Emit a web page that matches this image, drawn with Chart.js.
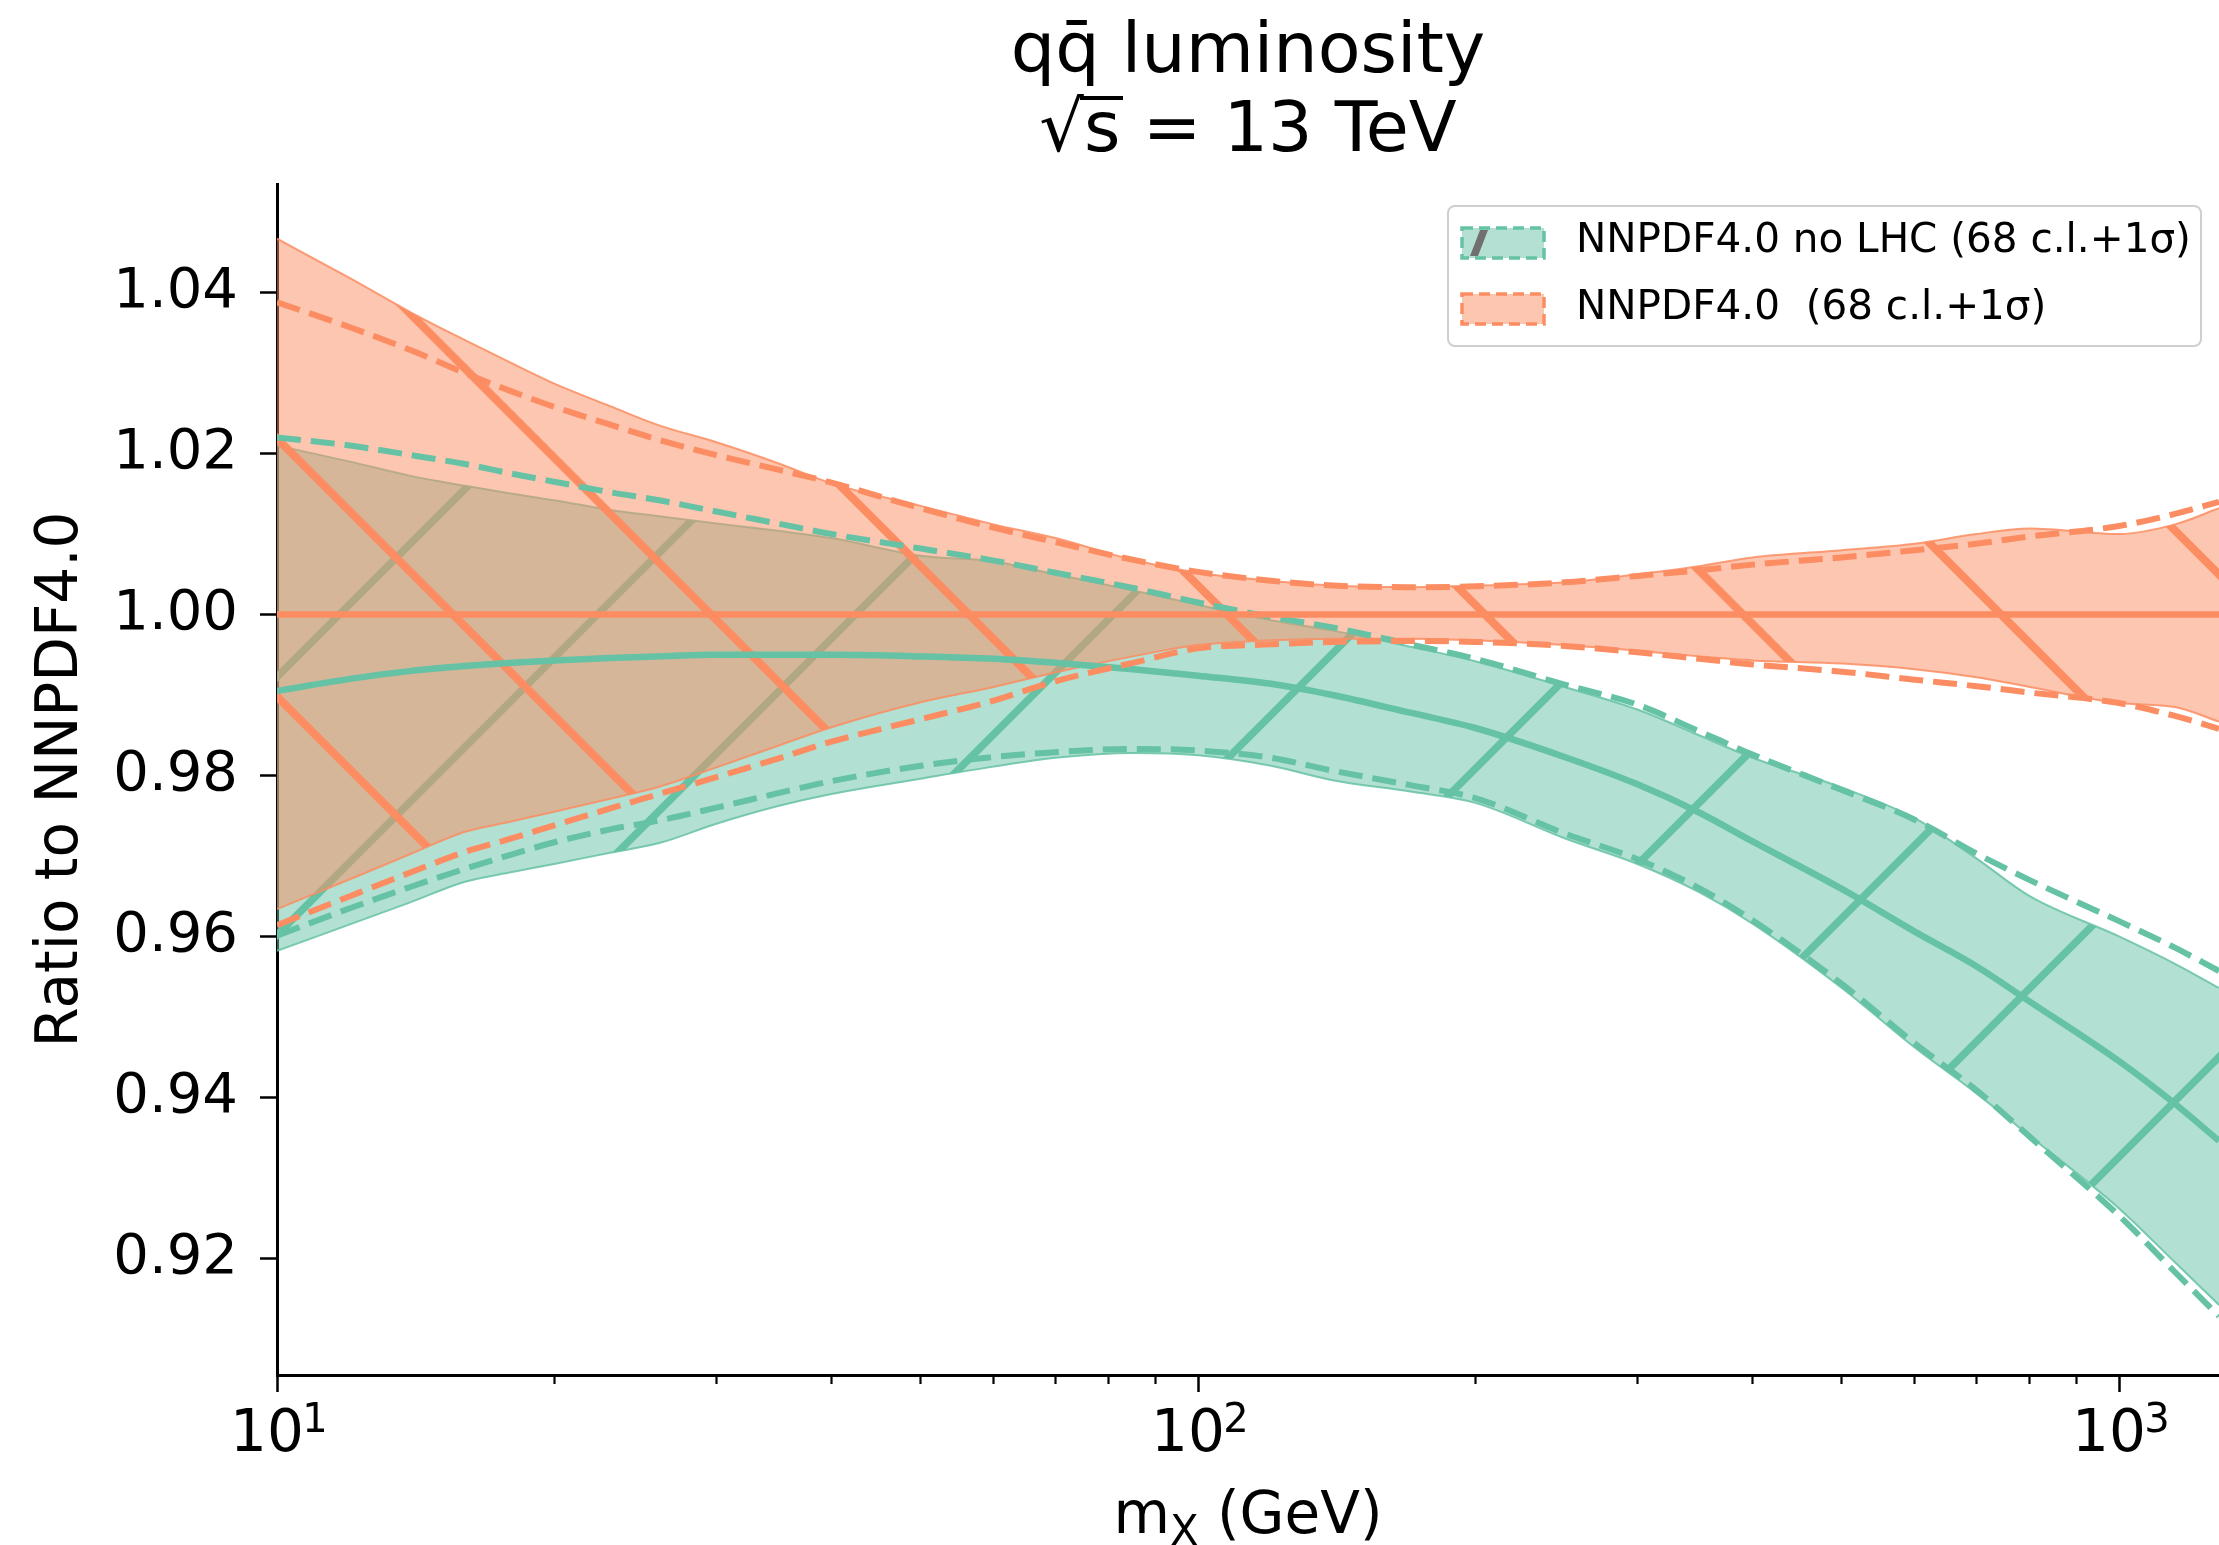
<!DOCTYPE html>
<html>
<head>
<meta charset="utf-8">
<script src="https://cdn.jsdelivr.net/npm/chart.js@4.4.1/dist/chart.umd.min.js"></script>
<style>
html,body{margin:0;padding:0;background:#fff;}
body{width:2219px;height:1545px;position:relative;overflow:hidden;font-family:'DejaVu Sans',sans-serif;color:#000;}
#c{position:absolute;left:0;top:0;}
#title{position:absolute;left:277px;width:1942px;top:9px;text-align:center;font-size:70px;line-height:79px;white-space:pre;}
.ov{position:relative;}
.ov::before{content:'';position:absolute;left:-4px;right:-3px;top:10px;border-top:4px solid #000;}
#xlabel{position:absolute;left:277px;width:1942px;top:1479px;text-align:center;font-size:58px;line-height:68px;white-space:pre;}
#xlabel .sub{font-size:72%;position:relative;top:0.28em;}
#legend{position:absolute;left:1447px;top:205px;width:755px;height:142px;box-sizing:border-box;border:2px solid #cfcfcf;border-radius:8px;background:rgba(255,255,255,0.85);}
#legend .sw{position:absolute;left:11px;width:86px;height:34px;}
#legend .tx{position:absolute;left:127px;font-size:40.5px;line-height:47px;white-space:pre;}
</style>
</head>
<body>
<canvas id="c" width="2219" height="1545"></canvas>
<div id="title"></div>
<div id="xlabel"></div>
<div id="legend"></div>
<script>
// ---------------- data ----------------
const X_VALUES = [10, 12, 14, 16, 18, 20, 23, 26, 30, 35, 40, 50, 60, 70, 85, 100, 120, 140, 170, 200, 250, 300, 350, 400, 500, 600, 700, 800, 1000, 1150, 1284];

// NNPDF4.0 (reference set)
const ORANGE_CENTRAL = [1.000,1.000,1.000,1.000,1.000,1.000,1.000,1.000,1.000,1.000,1.000,1.000,1.000,1.000,1.000,1.000,1.000,1.000,1.000,1.000,1.000,1.000,1.000,1.000,1.000,1.000,1.000,1.000,1.000,1.000,1.000];
const ORANGE_UP68 = [1.0467,1.0418,1.0375,1.0341,1.0312,1.0287,1.0259,1.0235,1.0214,1.0188,1.0163,1.0135,1.0112,1.0095,1.0068,1.0052,1.0042,1.0036,1.0034,1.0036,1.0040,1.0050,1.0060,1.0071,1.0080,1.0088,1.0100,1.0107,1.0100,1.0112,1.0132];
const ORANGE_LO68 = [0.9634,0.9671,0.9703,0.9730,0.9743,0.9755,0.9771,0.9786,0.9810,0.9837,0.9860,0.9891,0.9910,0.9928,0.9948,0.9962,0.9968,0.9970,0.9970,0.9968,0.9962,0.9955,0.9948,0.9943,0.9939,0.9932,0.9922,0.9910,0.9890,0.9885,0.9867];
const ORANGE_UP1S = [1.0388,1.0357,1.0328,1.0300,1.0277,1.0258,1.0236,1.0217,1.0198,1.0180,1.0164,1.0132,1.0108,1.0090,1.0068,1.0053,1.0042,1.0036,1.0034,1.0035,1.0040,1.0048,1.0055,1.0062,1.0071,1.0080,1.0088,1.0097,1.0110,1.0125,1.0140];
const ORANGE_LO1S = [0.9614,0.9650,0.9680,0.9705,0.9722,0.9738,0.9759,0.9777,0.9798,0.9821,0.9842,0.9870,0.9893,0.9917,0.9940,0.9958,0.9963,0.9966,0.9967,0.9966,0.9961,0.9953,0.9945,0.9938,0.9929,0.9919,0.9911,0.9903,0.9890,0.9874,0.9858];

// NNPDF4.0 no LHC
const GREEN_CENTRAL = [0.9905,0.9920,0.9930,0.9936,0.9940,0.9943,0.9946,0.9948,0.9950,0.9950,0.9950,0.9948,0.9945,0.9940,0.9932,0.9924,0.9914,0.9900,0.9878,0.9859,0.9823,0.9789,0.9754,0.9718,0.9659,0.9606,0.9563,0.9519,0.9445,0.9392,0.9346];
const GREEN_UP68 = [1.0210,1.0190,1.0172,1.0160,1.0150,1.0142,1.0130,1.0122,1.0113,1.0104,1.0095,1.0073,1.0066,1.0050,1.0030,1.0012,0.9993,0.9980,0.9960,0.9942,0.9910,0.9882,0.9850,0.9822,0.9785,0.9747,0.9697,0.9650,0.9600,0.9566,0.9536];
const GREEN_LO68 = [0.9582,0.9615,0.9643,0.9668,0.9680,0.9690,0.9704,0.9716,0.9740,0.9762,0.9777,0.9796,0.9811,0.9822,0.9828,0.9825,0.9812,0.9794,0.9780,0.9766,0.9722,0.9690,0.9655,0.9616,0.9536,0.9462,0.9405,0.9352,0.9262,0.9195,0.9142];
const GREEN_UP1S = [1.0220,1.0210,1.0198,1.0187,1.0175,1.0165,1.0152,1.0142,1.0128,1.0113,1.0100,1.0082,1.0067,1.0052,1.0033,1.0015,0.9997,0.9984,0.9963,0.9945,0.9913,0.9888,0.9855,0.9826,0.9782,0.9745,0.9703,0.9670,0.9619,0.9586,0.9557];
const GREEN_LO1S = [0.9601,0.9635,0.9662,0.9684,0.9702,0.9717,0.9733,0.9744,0.9760,0.9778,0.9793,0.9812,0.9823,0.9829,0.9833,0.9831,0.9822,0.9806,0.9788,0.9772,0.9728,0.9696,0.9660,0.9620,0.9541,0.9467,0.9409,0.9351,0.9253,0.9183,0.9128];

// axes
const X_MAJOR_TICKS = [10, 100, 1000];
const X_TICK_BASE = ['10', '10', '10'];
const X_TICK_EXP = ['1', '2', '3'];
const X_MINOR_TICKS = [20, 30, 40, 50, 60, 70, 80, 90, 200, 300, 400, 500, 600, 700, 800, 900];
const Y_TICKS = [0.92, 0.94, 0.96, 0.98, 1.00, 1.02, 1.04];
const Y_TICK_LABELS = ['0.92', '0.94', '0.96', '0.98', '1.00', '1.02', '1.04'];
const X_MIN = 10, X_MAX = 1284, Y_MIN = 0.9055, Y_MAX = 1.0535;

// text
const TITLE_LINE1 = 'qq\u0304 luminosity';
const TITLE_LINE2_PRE = '\u221a', TITLE_LINE2_RAD = 's', TITLE_LINE2_POST = ' = 13 TeV';
const X_TITLE_MAIN = 'm', X_TITLE_SUB = 'X', X_TITLE_UNIT = ' (GeV)';
const Y_TITLE = 'Ratio to NNPDF4.0';
const LABEL_GREEN = 'NNPDF4.0 no LHC (68 c.l.+1\u03c3)';
const LABEL_ORANGE = 'NNPDF4.0  (68 c.l.+1\u03c3)';

// ---------------- styles ----------------
const GREEN = '#66c2a5', ORANGE = '#fc8d62';
const GREEN_FILL = 'rgba(102,194,165,0.5)', ORANGE_FILL = 'rgba(252,141,98,0.5)';
const HATCH_P = 258;

function makeHatch(bg, lineColor, lw, dir, phase) {
  const P = HATCH_P;
  const cv = document.createElement('canvas');
  cv.width = P; cv.height = P;
  const g = cv.getContext('2d');
  g.fillStyle = bg; g.fillRect(0, 0, P, P);
  g.strokeStyle = lineColor; g.lineWidth = lw; g.lineCap = 'butt';
  for (let k = -2; k <= 2; k++) {
    const c0 = phase + k * P;
    g.beginPath();
    if (dir === '/') { g.moveTo(c0 + P, -P); g.lineTo(c0 - 2 * P, 2 * P); }
    else { g.moveTo(c0 - P, -P); g.lineTo(c0 + 2 * P, 2 * P); }
    g.stroke();
  }
  return g.createPattern(cv, 'repeat');
}
const greenHatch = makeHatch(GREEN_FILL, GREEN, 7.5, '/', 180);
const orangeHatch = makeHatch(ORANGE_FILL, ORANGE, 8, '\\', 96.5);

const pts = arr => X_VALUES.map((x, i) => ({x: x, y: arr[i]}));
const base = {pointRadius: 0, pointHoverRadius: 0, cubicInterpolationMode: 'monotone', xAxisID: 'x', yAxisID: 'y'};

Chart.defaults.font.family = "'DejaVu Sans', sans-serif";
Chart.defaults.color = '#000';

const datasets = [
  Object.assign({}, base, {label: LABEL_GREEN + ' upper', data: pts(GREEN_UP68), borderColor: 'rgba(102,194,165,0.85)', borderWidth: 2, fill: 1, backgroundColor: greenHatch, order: 20}),
  Object.assign({}, base, {label: LABEL_GREEN + ' lower', data: pts(GREEN_LO68), borderColor: 'rgba(102,194,165,0.85)', borderWidth: 2, fill: false, order: 19}),
  Object.assign({}, base, {label: LABEL_ORANGE + ' upper', data: pts(ORANGE_UP68), borderColor: 'rgba(252,141,98,0.85)', borderWidth: 2, fill: 3, backgroundColor: orangeHatch, order: 18}),
  Object.assign({}, base, {label: LABEL_ORANGE + ' lower', data: pts(ORANGE_LO68), borderColor: 'rgba(252,141,98,0.85)', borderWidth: 2, fill: false, order: 17}),
  Object.assign({}, base, {label: 'green +1s', data: pts(GREEN_UP1S), borderColor: GREEN, borderWidth: 6, borderDash: [24, 10], fill: false, order: 6}),
  Object.assign({}, base, {label: 'green -1s', data: pts(GREEN_LO1S), borderColor: GREEN, borderWidth: 6, borderDash: [24, 10], fill: false, order: 5}),
  Object.assign({}, base, {label: 'green central', data: pts(GREEN_CENTRAL), borderColor: GREEN, borderWidth: 6.5, fill: false, order: 4}),
  Object.assign({}, base, {label: 'orange +1s', data: pts(ORANGE_UP1S), borderColor: ORANGE, borderWidth: 6, borderDash: [24, 10], fill: false, order: 3}),
  Object.assign({}, base, {label: 'orange -1s', data: pts(ORANGE_LO1S), borderColor: ORANGE, borderWidth: 6, borderDash: [24, 10], fill: false, order: 2}),
  Object.assign({}, base, {label: 'orange central', data: pts(ORANGE_CENTRAL), borderColor: ORANGE, borderWidth: 6.5, fill: false, order: 1})
];

new Chart(document.getElementById('c'), {
  type: 'line',
  data: {datasets: datasets},
  options: {
    responsive: false,
    animation: false,
    devicePixelRatio: 1,
    events: [],
    layout: {padding: {top: 184, left: 0, right: 0, bottom: 0}},
    plugins: {legend: {display: false}, tooltip: {enabled: false}, title: {display: false}},
    scales: {
      xMinor: {
        type: 'logarithmic', position: 'bottom', weight: 0, min: X_MIN, max: X_MAX,
        afterBuildTicks: s => { s.ticks = X_MINOR_TICKS.map(v => ({value: v})); },
        ticks: {display: false},
        grid: {drawOnChartArea: false, drawTicks: true, tickLength: 9, tickWidth: 2.2, tickColor: '#000'},
        border: {display: false},
        afterFit: s => { s.height = 0; }
      },
      x: {
        type: 'logarithmic', position: 'bottom', weight: 1, min: X_MIN, max: X_MAX,
        afterBuildTicks: s => { s.ticks = X_MAJOR_TICKS.map(v => ({value: v})); },
        ticks: {font: {size: 58}, color: '#000', padding: 9, labelOffset: -10, maxRotation: 0, autoSkip: false,
                callback: (v, i) => X_TICK_BASE[i]},
        grid: {drawOnChartArea: false, tickLength: 17, tickWidth: 2.5, tickColor: '#000'},
        border: {display: true, color: '#000', width: 3},
        afterFit: s => { s.height = 170; }
      },
      xExp: {
        type: 'logarithmic', position: {y: Y_MIN}, min: X_MIN, max: X_MAX,
        afterBuildTicks: s => { s.ticks = X_MAJOR_TICKS.map(v => ({value: v})); },
        ticks: {font: {size: 40}, color: '#000', padding: 23, labelOffset: 38, maxRotation: 0, autoSkip: false,
                callback: (v, i) => X_TICK_EXP[i]},
        grid: {drawOnChartArea: false, drawTicks: false},
        border: {display: false}
      },
      y: {
        type: 'linear', position: 'left', min: Y_MIN, max: Y_MAX,
        afterBuildTicks: s => { s.ticks = Y_TICKS.map(v => ({value: v})); },
        ticks: {font: {size: 56}, color: '#000', padding: 22, autoSkip: false,
                callback: (v, i) => Y_TICK_LABELS[i]},
        grid: {drawOnChartArea: false, tickLength: 17, tickWidth: 2.5, tickColor: '#000'},
        border: {display: true, color: '#000', width: 3},
        title: {display: true, text: Y_TITLE, font: {size: 58}, color: '#000', padding: {top: 27, bottom: 0}},
        afterFit: s => { s.width = 277; }
      }
    }
  }
});

// ---------------- text overlays ----------------
document.getElementById('title').innerHTML =
  TITLE_LINE1 + '\n' + TITLE_LINE2_PRE + '<span class="ov">' + TITLE_LINE2_RAD + '</span>' + TITLE_LINE2_POST;
document.getElementById('xlabel').innerHTML =
  X_TITLE_MAIN + '<span class="sub">' + X_TITLE_SUB + '</span>' + X_TITLE_UNIT;

function swatch(fill, stroke, hatch) {
  let s = '<svg width="86" height="34" xmlns="http://www.w3.org/2000/svg">' +
    '<rect x="2" y="2" width="82" height="30" fill="' + fill + '" stroke="' + stroke + '" stroke-width="3.5" stroke-dasharray="11 6"/>';
  if (hatch) s += '<polygon points="10,30 18,30 28,4 20,4" fill="#707070"/>';
  return s + '</svg>';
}
const legendItems = [
  {label: LABEL_GREEN, fill: '#b3e0d2', stroke: GREEN, hatch: true},
  {label: LABEL_ORANGE, fill: '#fdc6b0', stroke: ORANGE, hatch: false}
];
const lg = document.getElementById('legend');
legendItems.forEach((it, i) => {
  const sw = document.createElement('div');
  sw.className = 'sw'; sw.style.top = (19 + 66 * i) + 'px';
  sw.innerHTML = swatch(it.fill, it.stroke, it.hatch);
  lg.appendChild(sw);
  const tx = document.createElement('div');
  tx.className = 'tx'; tx.style.top = (8 + 67 * i) + 'px';
  tx.textContent = it.label;
  lg.appendChild(tx);
});
</script>
</body>
</html>
